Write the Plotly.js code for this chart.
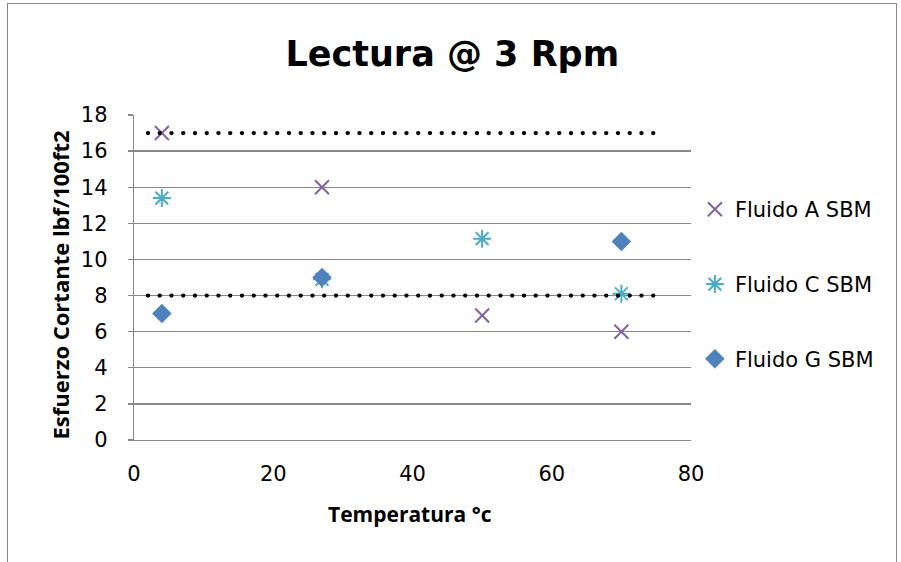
<!DOCTYPE html>
<html>
<head>
<meta charset="utf-8">
<script src="https://cdn.plot.ly/plotly-3.0.1.min.js"></script>
<style>
  html, body { margin: 0; padding: 0; background: #fff; }
  #wrap { position: relative; width: 901px; height: 562px; overflow: hidden; }
  #chart { width: 901px; height: 562px; }
  #frame { position: absolute; left: 7px; top: 3px; width: 890px; height: 620px;
           border: 1.5px solid #888888; pointer-events: none; box-sizing: border-box; }
  .scatterlayer path.js-line { stroke-linecap: round; }
</style>
</head>
<body>
<div id="wrap">
  <div id="chart"></div>
  <div id="frame"></div>
</div>
<script>
// ---- data ----
const tempA = [4, 27, 50, 70];
const valA  = [17, 14, 6.9, 6];
const tempC = [4, 27, 50, 70];
const valC  = [13.4, 8.9, 11.15, 8.1];
const tempG = [4, 27, 70];
const valG  = [7, 9, 11];
const limitX = [2, 75];
const upperLimit = [17, 17];
const lowerLimit = [8, 8];
const seriesNames = ['Fluido A SBM', 'Fluido C SBM', 'Fluido G SBM'];
const yTicks = [0, 2, 4, 6, 8, 10, 12, 14, 16, 18];
const xTicks = [0, 20, 40, 60, 80];

const FONT = '"DejaVu Sans", sans-serif';
const BOLDFONT = '"Open Sans", sans-serif';
const GRID = '#888888';

const traces = [
  { x: tempA, y: valA, name: seriesNames[0], type: 'scatter', mode: 'markers',
    legendgroup: 'a',
    marker: { symbol: 'x-thin-open', size: 14, color: '#8064A2',
              line: { color: '#8064A2', width: 2 } } },
  { x: tempC, y: valC, name: seriesNames[1], type: 'scatter', mode: 'markers',
    legendgroup: 'c',
    marker: { symbol: 'asterisk-open', size: 15, color: '#4BACC6',
              line: { color: '#4BACC6', width: 2 } } },
  { x: tempG, y: valG, name: seriesNames[2], type: 'scatter', mode: 'markers',
    legendgroup: 'g',
    marker: { symbol: 'diamond', size: 15, color: '#4F81BD',
              line: { color: '#4F81BD', width: 0 } } },
  { x: limitX, y: upperLimit, type: 'scatter', mode: 'lines', showlegend: false,
    hoverinfo: 'skip',
    line: { color: '#000000', width: 4.3, dash: '0.1px,11.65px' } },
  { x: limitX, y: lowerLimit, type: 'scatter', mode: 'lines', showlegend: false,
    hoverinfo: 'skip',
    line: { color: '#000000', width: 4.3, dash: '0.1px,11.65px' } }
];

const layout = {
  width: 901, height: 562,
  margin: { l: 134, r: 210, t: 115, b: 122, pad: 0 },
  paper_bgcolor: '#ffffff', plot_bgcolor: '#ffffff',
  font: { family: FONT, color: '#000000', size: 21 },
  title: { text: '<b>Lectura @ 3 Rpm</b>', font: { family: '"DejaVu Sans", sans-serif', size: 35, color: '#000' },
           xref: 'container', yref: 'container', x: 0.502, xanchor: 'center',
           y: 0.905, yanchor: 'middle' },
  showlegend: true,
  legend: { x: 1.007, xanchor: 'left', y: 0.772, yanchor: 'top',
            font: { family: FONT, size: 21, color: '#000' },
            traceorder: 'grouped', tracegroupgap: 44.5, bgcolor: 'rgba(0,0,0,0)' },
  xaxis: { range: [0, 80], tickvals: xTicks, ticktext: xTicks.map(String),
           showgrid: false, zeroline: false, showline: true, linecolor: GRID, linewidth: 1.3,
           ticks: '', tickfont: { family: FONT, size: 21 }, ticklabelstandoff: 14,
           fixedrange: true },
  yaxis: { range: [0, 18], tickvals: yTicks, ticktext: yTicks.map(String),
           showgrid: true, gridcolor: GRID, gridwidth: 1.3, zeroline: false,
           showline: true, linecolor: GRID, linewidth: 1.3,
           ticks: 'outside', ticklen: 5, tickcolor: GRID, tickwidth: 1.3,
           tickfont: { family: FONT, size: 21 }, ticklabelstandoff: 16,
           fixedrange: true },
  annotations: [
    { text: '<b>Temperatura °c</b>', xref: 'paper', yref: 'paper', x: 0.4955, y: -0.228,
      xanchor: 'center', yanchor: 'middle', showarrow: false,
      font: { family: BOLDFONT, size: 21, color: '#000' } },
    { text: '<b>Esfuerzo Cortante lbf/100ft2</b>', xref: 'paper', yref: 'paper',
      x: -0.133, y: 0.478, xanchor: 'center', yanchor: 'middle', textangle: -90,
      showarrow: false, font: { family: BOLDFONT, size: 22, color: '#000' } }
  ]
};

Plotly.newPlot('chart', traces, layout, { displayModeBar: false, staticPlot: true });
</script>
</body>
</html>
